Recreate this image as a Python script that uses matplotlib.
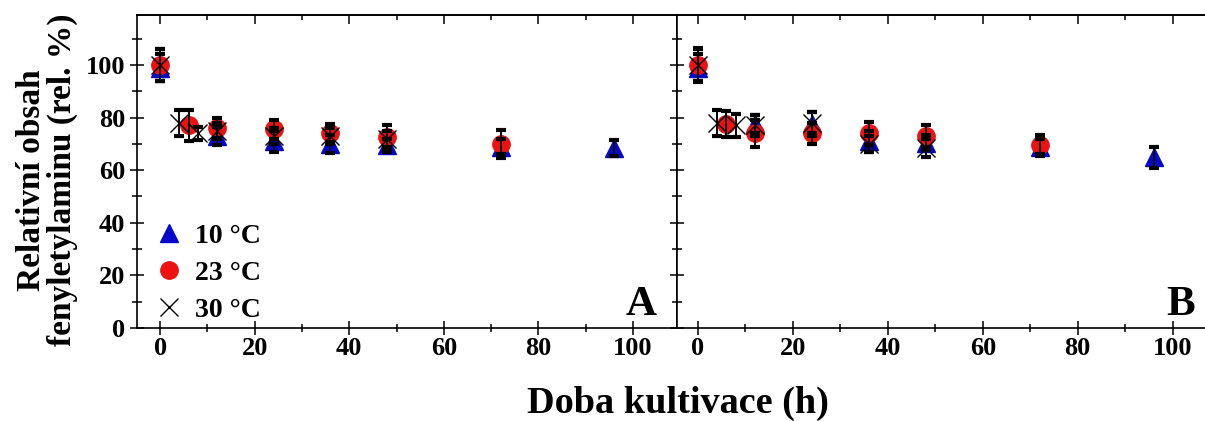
import matplotlib
matplotlib.use("Agg")
import matplotlib.pyplot as plt
from matplotlib.ticker import MultipleLocator

plt.rcParams['font.family'] = ['Liberation Serif', 'DejaVu Serif']
plt.rcParams['font.weight'] = 'bold'

# ---- data: panel A ----
a_t10 = [0, 12, 24, 36, 48, 72, 96]
a_v10 = [99, 73, 71, 70, 69.5, 69, 68.5]
a_e10 = [5, 3.4, 4, 3.5, 2.5, 3, 3]
a_t23 = [0, 6, 12, 24, 36, 48, 72]
a_v23 = [100, 77, 76, 75.5, 74, 72.5, 70]
a_e23 = [6, 6, 3.7, 3.5, 3.4, 4.5, 5.2]
a_t30 = [0, 4, 8, 12, 24, 36, 48]
a_v30 = [100, 78, 74, 75, 73, 73, 72]
a_e30 = [6, 5, 2.5, 3, 3, 3, 3]

# ---- data: panel B ----
b_t10 = [0, 12, 24, 36, 48, 72, 96]
b_v10 = [99, 77.5, 77.5, 71, 70.5, 69, 65]
b_e10 = [5, 3.5, 4.5, 4, 3, 3, 4]
b_t23 = [0, 6, 12, 24, 36, 48, 72]
b_v23 = [100, 77.5, 74, 74, 74, 73, 69.5]
b_e23 = [6.5, 5, 5, 4, 4.5, 4, 4]
b_t30 = [0, 4, 8, 12, 24, 36, 48]
b_v30 = [100, 78, 77, 77, 78, 70, 68.5]
b_e30 = [6, 5, 4.5, 4, 4, 3, 3.5]

labels = ['10 °C', '23 °C', '30 °C']
panel_letters = ['A', 'B']
x_label = 'Doba kultivace (h)'
y_label = 'Relativní obsah\nfenyletylaminu (rel. %)'

BLUE = '#0606cc'
RED = '#ee1111'

W, H = 1205, 421
fig = plt.figure(figsize=(W / 100, H / 100), dpi=100)

def px_axes(l, t, r, b):
    return fig.add_axes([l / W, 1 - b / H, (r - l) / W, (b - t) / H])

axA = px_axes(137, 15, 677, 328)
axB = px_axes(677, 15, 1205, 328)

def draw(ax, t10, v10, e10, t23, v23, e23, t30, v30, e30):
    h1, = ax.plot(t10, v10, ls='none', marker='^', ms=13, color=BLUE, mec=BLUE, zorder=3, label=labels[0])
    h2, = ax.plot(t23, v23, ls='none', marker='o', ms=12.5, color=RED, mec=RED, zorder=4, label=labels[1])
    h3, = ax.plot(t30, v30, ls='none', marker='x', ms=13, mew=1.0, color='black', zorder=5, label=labels[2])
    for t, v, e in ((t10, v10, e10), (t23, v23, e23), (t30, v30, e30)):
        ax.errorbar(t, v, yerr=e, fmt='none', ecolor='black', elinewidth=1.4,
                    capsize=3.5, capthick=3, zorder=6)
    return [h1, h2, h3]

handles = draw(axA, a_t10, a_v10, a_e10, a_t23, a_v23, a_e23, a_t30, a_v30, a_e30)
draw(axB, b_t10, b_v10, b_e10, b_t23, b_v23, b_e23, b_t30, b_v30, b_e30)

axA.set_xlim(-4.9, 109.3)
axB.set_xlim(-4.4, 106.8)
for ax in (axA, axB):
    ax.set_ylim(0, 119)
    ax.xaxis.set_major_locator(MultipleLocator(20))
    ax.xaxis.set_minor_locator(MultipleLocator(10))
    ax.yaxis.set_major_locator(MultipleLocator(20))
    ax.yaxis.set_minor_locator(MultipleLocator(10))
    for s in ax.spines.values():
        s.set_linewidth(1.2)
    ax.tick_params(axis='x', which='major', direction='inout', length=9.5, width=1.1,
                   top=False, labelsize=19, pad=2)
    ax.tick_params(axis='x', which='minor', direction='inout', length=5.5, width=1.1, top=False)
    ax.tick_params(axis='y', which='major', direction='inout', length=10, width=1.1, labelsize=19)
    ax.tick_params(axis='y', which='minor', direction='inout', length=6.5, width=1.1)
    for lab in ax.get_xticklabels() + ax.get_yticklabels():
        lab.set_fontweight('bold')
    sec = ax.secondary_xaxis('top')
    sec.xaxis.set_major_locator(MultipleLocator(20))
    sec.xaxis.set_minor_locator(MultipleLocator(10))
    sec.tick_params(axis='x', which='major', direction='in', length=6.5, width=1.1, labeltop=False)
    sec.tick_params(axis='x', which='minor', direction='in', length=3.5, width=1.1)
    sec.spines['top'].set_linewidth(1.2)

axB.spines['right'].set_visible(False)
axB.tick_params(axis='y', which='both', labelleft=False)

axA.text(0.963, 0.042, panel_letters[0], transform=axA.transAxes, ha='right', va='baseline',
         fontsize=31, fontweight='bold')
axB.text(0.981, 0.042, panel_letters[1], transform=axB.transAxes, ha='right', va='baseline',
         fontsize=31, fontweight='bold')

leg = axA.legend(handles=handles, loc='lower left', bbox_to_anchor=(-0.008, -0.055), frameon=False,
                 handlelength=1.0, handletextpad=0.45, labelspacing=0.42,
                 borderaxespad=0.4, prop={'weight': 'bold', 'size': 20})

fig.text(678 / W, 1 - 403 / H, x_label, ha='center', va='center', fontsize=27.5, fontweight='bold')
fig.text(47 / W, 1 - 180 / H, y_label, ha='center', va='center', rotation=90,
         fontsize=24, fontweight='bold', multialignment='center', linespacing=0.95)

fig.savefig('out.png', dpi=100)
